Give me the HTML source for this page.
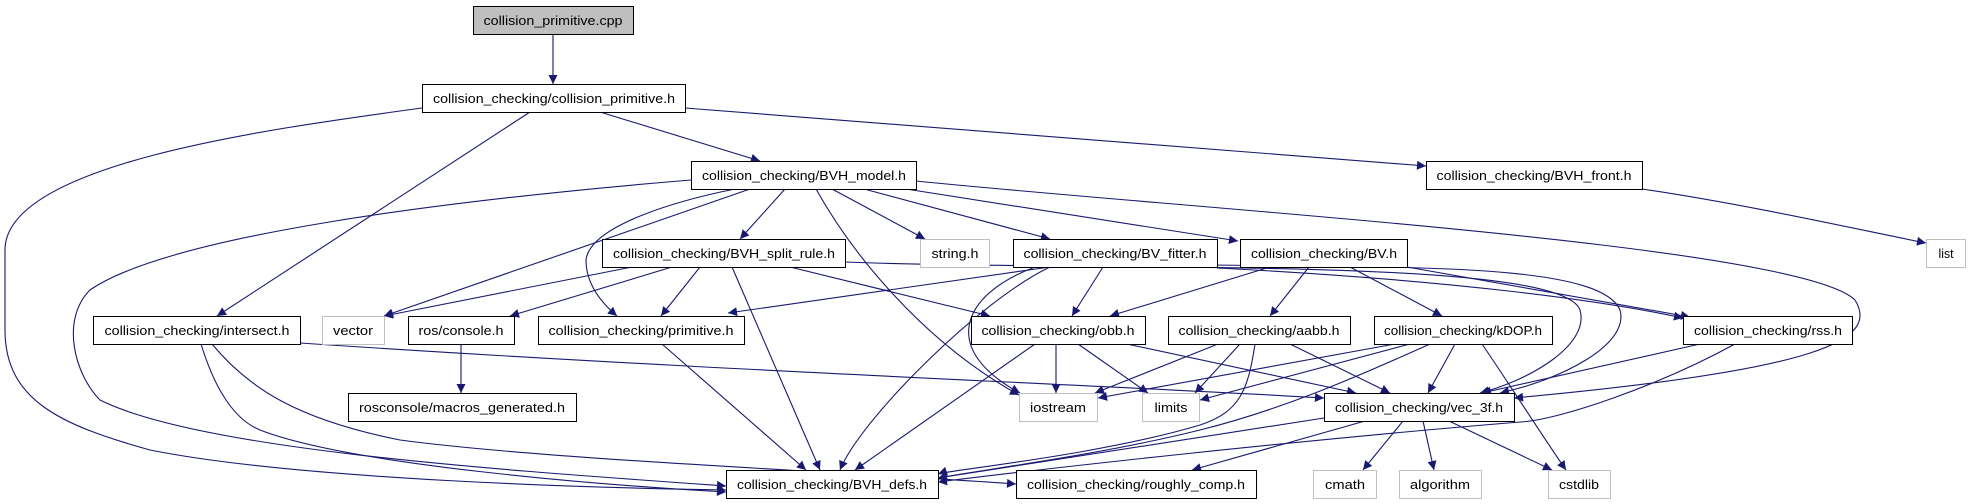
<!DOCTYPE html>
<html><head><meta charset="utf-8"><style>
html,body{margin:0;padding:0;background:#fff;}
svg{display:block;}
text{font-family:"Liberation Sans",sans-serif;font-size:13px;fill:#000;}
</style></head><body>
<svg width="1971" height="504" viewBox="0 0 1971 504" xmlns="http://www.w3.org/2000/svg">
<defs>
<marker id="a" viewBox="0 0 10 10" refX="10" refY="5" markerWidth="11" markerHeight="9" markerUnits="userSpaceOnUse" orient="auto">
<path d="M0,0 L10,5 L0,10 z" fill="#191970"/>
</marker>
</defs>
<g fill="none" stroke="#191970" stroke-width="1.1" marker-end="url(#a)">
<path d="M553,34 L553,84"/>
<path d="M422,108 C260,130 5,165 5,250 L5,330 C5,400 60,425 150,450 C300,480 600,488 726,490"/>
<path d="M530,112 L217,316"/>
<path d="M600,112 L760,161"/>
<path d="M685,108 L1426,166"/>
<path d="M691,180 C450,200 170,235 90,290 C60,320 75,375 100,400 C200,450 500,470 726,486"/>
<path d="M750,189 L384,316"/>
<path d="M735,189 C680,200 590,225 586,260 C586,290 610,310 617,316"/>
<path d="M785,189 L740,239"/>
<path d="M816,189 C850,250 920,340 1019,395"/>
<path d="M832,189 L925,239"/>
<path d="M864,189 L1050,239"/>
<path d="M906,189 L1238,241"/>
<path d="M916,181 C1200,210 1800,245 1855,300 C1880,340 1820,370 1514,398"/>
<path d="M1642,189 C1750,205 1860,230 1926,243"/>
<path d="M300,343 C700,370 1100,385 1324,398"/>
<path d="M201,344 C215,390 235,420 260,430 C350,465 600,485 726,492"/>
<path d="M212,344 C250,390 300,420 400,440 C550,460 850,472 1016,484"/>
<path d="M632,267 L384,316"/>
<path d="M672,267 L510,316"/>
<path d="M700,267 L661,316"/>
<path d="M732,267 L820,470"/>
<path d="M790,267 L990,316"/>
<path d="M845,262 C1100,272 1560,255 1580,310 C1590,345 1530,380 1480,393"/>
<path d="M1050,267 L728,313"/>
<path d="M1035,267 C960,295 940,350 1020,393"/>
<path d="M1050,267 C980,300 860,420 840,470"/>
<path d="M1103,267 L1072,316"/>
<path d="M1217,265 C1400,268 1600,262 1620,310 C1630,345 1560,380 1500,393"/>
<path d="M1217,268 C1450,280 1600,300 1683,318"/>
<path d="M1270,267 L1110,316"/>
<path d="M1309,267 L1270,316"/>
<path d="M1350,267 L1442,316"/>
<path d="M1407,267 L1690,317"/>
<path d="M1056,344 L1056,393"/>
<path d="M1078,344 L1148,393"/>
<path d="M1035,344 L855,470"/>
<path d="M1127,344 L1356,393"/>
<path d="M1218,344 L1095,393"/>
<path d="M1240,344 L1195,393"/>
<path d="M1255,344 C1248,390 1240,412 1200,425 C1100,455 950,470 938,474"/>
<path d="M1290,344 L1390,393"/>
<path d="M1395,344 L1098,398"/>
<path d="M1410,344 L1200,400"/>
<path d="M1430,344 C1350,380 1280,410 1200,430 C1100,455 980,470 938,478"/>
<path d="M1455,344 L1428,393"/>
<path d="M1482,344 C1510,385 1545,440 1566,470"/>
<path d="M1700,344 L1482,393"/>
<path d="M1735,344 C1660,385 1560,420 1520,422 C1300,440 1050,468 938,482"/>
<path d="M1324,418 L938,478"/>
<path d="M1365,421 L1192,470"/>
<path d="M1403,421 L1363,470"/>
<path d="M1423,421 L1434,470"/>
<path d="M1449,421 L1552,470"/>
<path d="M662,344 L806,470"/>
<path d="M461,344 L461,393"/>
</g>
<g stroke-width="1">
<rect x="473.5" y="6.5" width="160" height="28" fill="#bfbfbf" stroke="#000"/>
<rect x="422.5" y="84.5" width="263" height="28" fill="#fff" stroke="#000"/>
<rect x="691.5" y="161.5" width="225" height="28" fill="#fff" stroke="#000"/>
<rect x="1426.5" y="161.5" width="216" height="28" fill="#fff" stroke="#000"/>
<rect x="1926.5" y="239.5" width="39" height="28" fill="#fff" stroke="#bfbfbf"/>
<rect x="602.5" y="239.5" width="243" height="28" fill="#fff" stroke="#000"/>
<rect x="920.5" y="239.5" width="69" height="28" fill="#fff" stroke="#bfbfbf"/>
<rect x="1013.5" y="239.5" width="204" height="28" fill="#fff" stroke="#000"/>
<rect x="1240.5" y="239.5" width="167" height="28" fill="#fff" stroke="#000"/>
<rect x="93.5" y="316.5" width="207" height="28" fill="#fff" stroke="#000"/>
<rect x="322.5" y="316.5" width="62" height="28" fill="#fff" stroke="#bfbfbf"/>
<rect x="408.5" y="316.5" width="106" height="28" fill="#fff" stroke="#000"/>
<rect x="538.5" y="316.5" width="206" height="28" fill="#fff" stroke="#000"/>
<rect x="971.5" y="316.5" width="174" height="28" fill="#fff" stroke="#000"/>
<rect x="1168.5" y="316.5" width="182" height="28" fill="#fff" stroke="#000"/>
<rect x="1374.5" y="316.5" width="178" height="28" fill="#fff" stroke="#000"/>
<rect x="1683.5" y="316.5" width="169" height="28" fill="#fff" stroke="#000"/>
<rect x="348.5" y="393.5" width="228" height="28" fill="#fff" stroke="#000"/>
<rect x="1019.5" y="393.5" width="78" height="28" fill="#fff" stroke="#bfbfbf"/>
<rect x="1142.5" y="393.5" width="57" height="28" fill="#fff" stroke="#bfbfbf"/>
<rect x="1324.5" y="393.5" width="190" height="28" fill="#fff" stroke="#000"/>
<rect x="726.5" y="470.5" width="212" height="28" fill="#fff" stroke="#000"/>
<rect x="1016.5" y="470.5" width="240" height="28" fill="#fff" stroke="#000"/>
<rect x="1313.5" y="470.5" width="63" height="28" fill="#fff" stroke="#bfbfbf"/>
<rect x="1399.5" y="470.5" width="82" height="28" fill="#fff" stroke="#bfbfbf"/>
<rect x="1548.5" y="470.5" width="62" height="28" fill="#fff" stroke="#bfbfbf"/>
</g>
<g text-anchor="middle">
<text x="553" y="25" textLength="139" lengthAdjust="spacingAndGlyphs">collision_primitive.cpp</text>
<text x="554" y="103" textLength="242" lengthAdjust="spacingAndGlyphs">collision_checking/collision_primitive.h</text>
<text x="804" y="180" textLength="204" lengthAdjust="spacingAndGlyphs">collision_checking/BVH_model.h</text>
<text x="1534" y="180" textLength="195" lengthAdjust="spacingAndGlyphs">collision_checking/BVH_front.h</text>
<text x="1946" y="258" textLength="15" lengthAdjust="spacingAndGlyphs">list</text>
<text x="724" y="258" textLength="222" lengthAdjust="spacingAndGlyphs">collision_checking/BVH_split_rule.h</text>
<text x="955" y="258" textLength="47" lengthAdjust="spacingAndGlyphs">string.h</text>
<text x="1115" y="258" textLength="183" lengthAdjust="spacingAndGlyphs">collision_checking/BV_fitter.h</text>
<text x="1324" y="258" textLength="146" lengthAdjust="spacingAndGlyphs">collision_checking/BV.h</text>
<text x="197" y="335" textLength="185" lengthAdjust="spacingAndGlyphs">collision_checking/intersect.h</text>
<text x="353" y="335" textLength="40" lengthAdjust="spacingAndGlyphs">vector</text>
<text x="461" y="335" textLength="85" lengthAdjust="spacingAndGlyphs">ros/console.h</text>
<text x="641" y="335" textLength="185" lengthAdjust="spacingAndGlyphs">collision_checking/primitive.h</text>
<text x="1058" y="335" textLength="153" lengthAdjust="spacingAndGlyphs">collision_checking/obb.h</text>
<text x="1259" y="335" textLength="161" lengthAdjust="spacingAndGlyphs">collision_checking/aabb.h</text>
<text x="1463" y="335" textLength="158" lengthAdjust="spacingAndGlyphs">collision_checking/kDOP.h</text>
<text x="1768" y="335" textLength="148" lengthAdjust="spacingAndGlyphs">collision_checking/rss.h</text>
<text x="462" y="412" textLength="206" lengthAdjust="spacingAndGlyphs">rosconsole/macros_generated.h</text>
<text x="1058" y="412" textLength="56" lengthAdjust="spacingAndGlyphs">iostream</text>
<text x="1171" y="412" textLength="33" lengthAdjust="spacingAndGlyphs">limits</text>
<text x="1419" y="412" textLength="168" lengthAdjust="spacingAndGlyphs">collision_checking/vec_3f.h</text>
<text x="832" y="489" textLength="190" lengthAdjust="spacingAndGlyphs">collision_checking/BVH_defs.h</text>
<text x="1136" y="489" textLength="218" lengthAdjust="spacingAndGlyphs">collision_checking/roughly_comp.h</text>
<text x="1345" y="489" textLength="40" lengthAdjust="spacingAndGlyphs">cmath</text>
<text x="1440" y="489" textLength="60" lengthAdjust="spacingAndGlyphs">algorithm</text>
<text x="1579" y="489" textLength="40" lengthAdjust="spacingAndGlyphs">cstdlib</text>
</g>
</svg>
</body></html>
